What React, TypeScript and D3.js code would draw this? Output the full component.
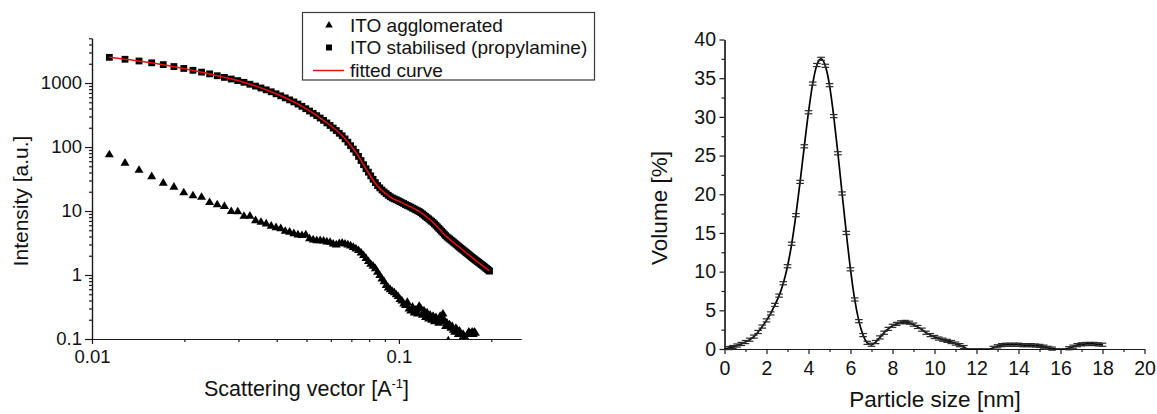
import React, { useEffect, useRef } from 'react';
import * as d3 from 'd3';

const FONT = '"Liberation Sans", Arial, Helvetica, sans-serif';

// ---- left chart: scattering curves (q in 1/A, intensity in a.u.)
const scatteringVector = [
  0.01139, 0.01281, 0.01423, 0.01565, 0.01707, 0.01849, 0.01991, 0.02133, 0.02275, 0.02417,
  0.02559, 0.02701, 0.02843, 0.02985, 0.03127, 0.03269, 0.03411, 0.03553, 0.03695, 0.03837,
  0.03979, 0.04121, 0.04263, 0.04405, 0.04547, 0.04689, 0.04831, 0.04973, 0.05115, 0.05257,
  0.05399, 0.05541, 0.05683, 0.05825, 0.05967, 0.06109, 0.06251, 0.06393, 0.06535, 0.06677,
  0.06819, 0.06961, 0.07103, 0.07245, 0.07387, 0.07529, 0.07671, 0.07813, 0.07955, 0.08097,
  0.08239, 0.08381, 0.08523, 0.08665, 0.08807, 0.08949, 0.09091, 0.09233, 0.09375, 0.09517,
  0.09659, 0.09801, 0.09943, 0.10085, 0.10227, 0.10369, 0.10511, 0.10653, 0.10795, 0.10937,
  0.11079, 0.11221, 0.11363, 0.11505, 0.11647, 0.11789, 0.11931, 0.12073, 0.12215, 0.12357,
  0.12499, 0.12641, 0.12783, 0.12925, 0.13067, 0.13209, 0.13351, 0.13493, 0.13635, 0.13777,
  0.13919, 0.14061, 0.14203, 0.14345, 0.14487, 0.14629, 0.14771, 0.14913, 0.15055, 0.15197,
  0.15339, 0.15481, 0.15623, 0.15765, 0.15907, 0.16049, 0.16191, 0.16333, 0.16475, 0.16617,
  0.16759, 0.16901, 0.17043, 0.17185, 0.17327, 0.17469, 0.17611, 0.17753, 0.17895, 0.18037,
  0.18179, 0.18321, 0.18463, 0.18605, 0.18747, 0.18889, 0.19031, 0.19173, 0.19315, 0.19457,
  0.19599, 0.19741,
];

const stabilisedIntensity = [
  2520, 2350, 2210, 2070, 1940, 1810, 1690, 1580, 1480, 1390,
  1300, 1225, 1155, 1091, 1026, 957, 895, 837, 783, 730,
  679, 631, 586, 545, 507, 469, 432, 397, 365, 336,
  309, 284, 261, 238, 217, 198, 181, 164, 150, 134,
  119, 105, 92.9, 82.2, 71.4, 61.5, 53.0, 45.8, 40.5, 35.5,
  31.3, 27.8, 25.0, 23.0, 21.3, 19.9, 18.7, 17.6, 16.7, 16.0,
  15.5, 15.0, 14.5, 14.0, 13.5, 13.1, 12.6, 12.2, 11.9, 11.5,
  11.1, 10.8, 10.4, 10.1, 9.8, 9.42, 9.02, 8.62, 8.25, 7.89,
  7.55, 7.22, 6.91, 6.62, 6.28, 5.96, 5.65, 5.36, 5.09, 4.83,
  4.58, 4.35, 4.12, 3.93, 3.79, 3.66, 3.52, 3.4, 3.27, 3.15,
  3.04, 2.93, 2.82, 2.72, 2.62, 2.54, 2.45, 2.37, 2.29, 2.22,
  2.15, 2.08, 2.01, 1.94, 1.88, 1.82, 1.77, 1.72, 1.67, 1.62,
  1.58, 1.53, 1.49, 1.45, 1.41, 1.37, 1.33, 1.29, 1.26, 1.22,
  1.19, 1.15,
];

// same q grid, measured up to q ~ 0.178
const agglomeratedIntensity = [
  77, 57, 44, 35, 27.7, 24.0, 19.6, 17.6, 16.7, 13.8,
  12.7, 12.0, 10.0, 9.9, 8.4, 8.45, 7.2, 6.8, 6.4, 5.9,
  5.6, 5.4, 4.9, 4.75, 4.5, 4.3, 4.2, 4.3, 3.75, 3.6,
  3.5, 3.5, 3.45, 3.35, 3.3, 3.1, 3.0, 3.15, 3.2, 3.1,
  3.0, 2.9, 2.75, 2.6, 2.45, 2.25, 2.05, 1.85, 1.65, 1.5,
  1.4, 1.28, 1.12, 1.0, 0.88, 0.8, 0.7, 0.64, 0.6, 0.56,
  0.54, 0.5, 0.47, 0.42, 0.4, 0.36, 0.34, 0.38, 0.3, 0.28,
  0.32, 0.26, 0.29, 0.25, 0.33, 0.3, 0.24, 0.28, 0.22, 0.26,
  0.21, 0.24, 0.2, 0.23, 0.19, 0.22, 0.2, 0.18, 0.23, 0.19,
  0.25, 0.2, 0.16, 0.18, 0.095, 0.17, 0.15, 0.16, 0.14, 0.13,
  0.15, 0.14, 0.12, 0.135, 0.095, 0.1, 0.12, 0.11, 0.1, 0.098,
  0.12, 0.13, 0.125, 0.12, 0.13, 0.12, 0.13, 0.125,
];

const fitVector = [
  0.01139, 0.01649, 0.02282, 0.03081, 0.03763, 0.04643, 0.05667, 0.06586, 0.07282, 0.07851,
  0.08463, 0.09348, 0.1033, 0.1171, 0.1293, 0.143, 0.158, 0.1746, 0.1968,
];
const fitIntensity = [
  2523, 1982, 1469, 1047, 759, 482, 264, 145, 79.8, 43.8,
  25.5, 16.7, 13.2, 9.66, 6.61, 3.98, 2.69, 1.82, 1.17,
];

const qTickValues = [0.01, 0.1];
const qTickLabels = ['0.01', '0.1'];
const intensityTickValues = [0.1, 1, 10, 100, 1000];
const intensityTickLabels = ['0.1', '1', '10', '100', '1000'];

const legendLabels = ['ITO agglomerated', 'ITO stabilised (propylamine)', 'fitted curve'];

// ---- right chart: volume size distribution
const particleSize = [
  0, 0.2, 0.4, 0.6, 0.8, 1.0, 1.2, 1.4, 1.6, 1.8,
  2.0, 2.2, 2.4, 2.6, 2.8, 3.0, 3.2, 3.4, 3.6, 3.8,
  4.0, 4.2, 4.4, 4.6, 4.8, 5.0, 5.2, 5.4, 5.6, 5.8,
  6.0, 6.2, 6.4, 6.6, 6.8, 7.0, 7.2, 7.4, 7.6, 7.8,
  8.0, 8.2, 8.4, 8.6, 8.8, 9.0, 9.2, 9.4, 9.6, 9.8,
  10.0, 10.2, 10.4, 10.6, 10.8, 11.0, 11.2, 11.4, 11.6, 11.8,
  12.0, 12.2, 12.4, 12.6, 12.8, 13.0, 13.2, 13.4, 13.6, 13.8,
  14.0, 14.2, 14.4, 14.6, 14.8, 15.0, 15.2, 15.4, 15.6, 15.8,
  16.0, 16.2, 16.4, 16.6, 16.8, 17.0, 17.2, 17.4, 17.6, 17.8,
  18.0,
];
const volumePercent = [
  0, 0.12, 0.25, 0.45, 0.65, 0.9, 1.2, 1.6, 2.2, 2.9,
  3.7, 4.6, 5.7, 6.9, 8.5, 10.7, 13.6, 17.3, 21.6, 26.2,
  30.6, 34.3, 36.7, 37.5, 36.6, 34.1, 30.1, 25.3, 20.1, 15.0,
  10.3, 6.4, 3.6, 1.8, 0.8, 0.55, 0.9, 1.5, 2.1, 2.6,
  3.0, 3.25, 3.45, 3.5, 3.4, 3.15, 2.85, 2.5, 2.1, 1.8,
  1.55, 1.35, 1.2, 1.05, 0.9, 0.7, 0.5, 0.25, 0, 0,
  0, 0, 0, 0, 0.15, 0.35, 0.5, 0.55, 0.55, 0.55,
  0.55, 0.5, 0.5, 0.5, 0.45, 0.4, 0.3, 0.15, 0.05, 0,
  0, 0, 0.1, 0.3, 0.5, 0.6, 0.65, 0.65, 0.65, 0.6,
  0.55,
];
const VOLUME_ERR = 0.2;

const sizeTickValues = [0, 2, 4, 6, 8, 10, 12, 14, 16, 18, 20];
const volumeTickValues = [0, 5, 10, 15, 20, 25, 30, 35, 40];

const AXIS = '#1a1a1a';

function styleAxis(g: any, fontSize: number) {
  g.select('.domain').attr('stroke', AXIS).attr('stroke-width', 1.2);
  g.selectAll('.tick line').attr('stroke', AXIS).attr('stroke-width', 1.2);
  g.selectAll('.tick text')
    .attr('fill', '#111')
    .style('font-family', FONT)
    .style('font-size', `${fontSize}px`);
}

function drawScattering(svg: any) {
  const x = d3.scaleLog().domain([0.01, 0.25]).range([92, 521]);
  const y = d3.scaleLog().domain([0.1, 5000]).range([339, 38.3]);

  svg.append('defs').append('clipPath').attr('id', 'clip-saxs')
    .append('rect').attr('x', 92).attr('y', 0).attr('width', 440).attr('height', 339);

  const minorX = [0.02, 0.03, 0.04, 0.05, 0.06, 0.07, 0.08, 0.09, 0.2];
  const minorY = [0.1, 1, 10, 100, 1000]
    .flatMap(d => [2, 3, 4, 5, 6, 7, 8, 9].map(k => k * d))
    .filter(v => v <= 5000);

  // minor ticks first
  const gxm = svg.append('g').attr('transform', 'translate(0,339)')
    .call(d3.axisBottom(x).tickValues(minorX).tickFormat(() => '').tickSize(3).tickSizeOuter(0));
  styleAxis(gxm, 18);
  const gym = svg.append('g').attr('transform', 'translate(92,0)')
    .call(d3.axisLeft(y).tickValues(minorY).tickFormat(() => '').tickSize(3).tickSizeOuter(0));
  styleAxis(gym, 18);

  const gx = svg.append('g').attr('transform', 'translate(0,339)')
    .call(d3.axisBottom(x).tickValues(qTickValues)
      .tickFormat((d: any, i: number) => qTickLabels[i]).tickSize(5).tickPadding(6).tickSizeOuter(0));
  styleAxis(gx, 18.5);

  const gy = svg.append('g').attr('transform', 'translate(92,0)')
    .call(d3.axisLeft(y).tickValues(intensityTickValues)
      .tickFormat((d: any, i: number) => intensityTickLabels[i]).tickSize(7).tickPadding(3).tickSizeOuter(0));
  styleAxis(gy, 18.5);

  const plot = svg.append('g').attr('clip-path', 'url(#clip-saxs)');
  const tri = 'M0,-4.6L4.5,3L-4.5,3Z';

  plot.selectAll('path.agg')
    .data(agglomeratedIntensity)
    .enter()
    .append('path')
    .attr('class', 'agg')
    .attr('d', tri)
    .attr('transform', (d: number, i: number) => `translate(${x(scatteringVector[i])},${y(d)})`)
    .attr('fill', '#000');

  plot.selectAll('rect.stab')
    .data(stabilisedIntensity)
    .enter()
    .append('rect')
    .attr('class', 'stab')
    .attr('x', (d: number, i: number) => x(scatteringVector[i]) - 3.4)
    .attr('y', (d: number) => y(d) - 3.4)
    .attr('width', 6.8)
    .attr('height', 6.8)
    .attr('fill', '#000');

  const fitLine = d3.line<number>()
    .x((d, i) => x(fitVector[i]))
    .y(d => y(d))
    .curve(d3.curveMonotoneX);
  plot.append('path')
    .attr('d', fitLine(fitIntensity))
    .attr('fill', 'none')
    .attr('stroke', '#e8100c')
    .attr('stroke-width', 1.5);

  // axis titles
  svg.append('text')
    .attr('x', 306.5).attr('y', 396)
    .attr('text-anchor', 'middle')
    .style('font-family', FONT).style('font-size', '21.5px').attr('fill', '#111')
    .call((t: any) => {
      t.append('tspan').text('Scattering vector [A');
      t.append('tspan').attr('dy', -8).style('font-size', '13px').text('-1');
      t.append('tspan').attr('dy', 8).text(']');
    });

  svg.append('text')
    .attr('transform', 'translate(28,201) rotate(-90)')
    .attr('text-anchor', 'middle')
    .style('font-family', FONT).style('font-size', '21px').attr('fill', '#111')
    .text('Intensity [a.u.]');

  // legend
  const lg = svg.append('g');
  lg.append('rect')
    .attr('x', 302.5).attr('y', 12.5).attr('width', 292).attr('height', 67.5)
    .attr('fill', '#fff').attr('stroke', '#3a3a3a').attr('stroke-width', 1.2);
  const rowY = [25, 47.5, 70];
  lg.append('path').attr('d', 'M0,-4L3.8,2.6L-3.8,2.6Z')
    .attr('transform', `translate(329,${rowY[0]})`).attr('fill', '#000');
  lg.append('rect').attr('x', 326).attr('y', rowY[1] - 3).attr('width', 6).attr('height', 6).attr('fill', '#000');
  lg.append('line').attr('x1', 313).attr('x2', 344).attr('y1', rowY[2] + 0.5).attr('y2', rowY[2] + 0.5)
    .attr('stroke', '#e8100c').attr('stroke-width', 1.5);
  lg.selectAll('text.lg')
    .data(legendLabels)
    .enter()
    .append('text')
    .attr('class', 'lg')
    .attr('x', 350)
    .attr('y', (d: string, i: number) => rowY[i] + 6.8)
    .style('font-family', FONT).style('font-size', '19px').attr('fill', '#111')
    .text((d: string) => d);
}

function drawSizeDistribution(svg: any) {
  const x = d3.scaleLinear().domain([0, 20]).range([724.5, 1144.5]);
  const y = d3.scaleLinear().domain([0, 40]).range([349, 39.5]);

  const minorX = d3.range(1, 20, 2);
  const minorY = d3.range(2.5, 40, 5);

  const gxm = svg.append('g').attr('transform', 'translate(0,349)')
    .call(d3.axisBottom(x).tickValues(minorX).tickFormat(() => '').tickSize(3).tickSizeOuter(0));
  styleAxis(gxm, 19.5);
  const gym = svg.append('g').attr('transform', 'translate(724.5,0)')
    .call(d3.axisLeft(y).tickValues(minorY).tickFormat(() => '').tickSize(3).tickSizeOuter(0));
  styleAxis(gym, 19.5);

  const gx = svg.append('g').attr('transform', 'translate(0,349)')
    .call(d3.axisBottom(x).tickValues(sizeTickValues).tickFormat(d3.format('d')).tickSize(5).tickPadding(7).tickSizeOuter(0));
  styleAxis(gx, 19.5);
  const gy = svg.append('g').attr('transform', 'translate(724.5,0)')
    .call(d3.axisLeft(y).tickValues(volumeTickValues).tickFormat(d3.format('d')).tickSize(5).tickPadding(3.5).tickSizeOuter(0));
  styleAxis(gy, 19.5);

  const line = d3.line<number>()
    .x((d, i) => x(particleSize[i]))
    .y(d => y(d))
    .curve(d3.curveMonotoneX);
  svg.append('path')
    .attr('d', line(volumePercent))
    .attr('fill', 'none')
    .attr('stroke', '#000')
    .attr('stroke-width', 1.7);

  const bars = svg.append('g').attr('stroke', '#2a2a2a').attr('stroke-width', 1.2);
  volumePercent.forEach((v, i) => {
    if (v <= 0) return;
    const cx = x(particleSize[i]);
    const top = y(v + VOLUME_ERR);
    const bot = y(v - VOLUME_ERR);
    bars.append('line').attr('x1', cx).attr('x2', cx).attr('y1', top).attr('y2', bot);
    bars.append('line').attr('x1', cx - 3.8).attr('x2', cx + 3.8).attr('y1', top).attr('y2', top);
    bars.append('line').attr('x1', cx - 3.8).attr('x2', cx + 3.8).attr('y1', bot).attr('y2', bot);
  });

  svg.append('text')
    .attr('x', 935).attr('y', 407)
    .attr('text-anchor', 'middle')
    .style('font-family', FONT).style('font-size', '22.5px').attr('fill', '#111')
    .text('Particle size [nm]');

  svg.append('text')
    .attr('transform', 'translate(667,208) rotate(-90)')
    .attr('text-anchor', 'middle')
    .style('font-family', FONT).style('font-size', '22.5px').attr('fill', '#111')
    .text('Volume [%]');
}

export default function App() {
  const ref = useRef<SVGSVGElement>(null);

  useEffect(() => {
    const svg = d3.select(ref.current);
    svg.selectAll('*').remove();
    drawScattering(svg);
    drawSizeDistribution(svg);
  }, []);

  return (
    <svg
      ref={ref}
      width={1157}
      height={414}
      style={{ position: 'absolute', left: 0, top: 0, background: '#fff' }}
    />
  );
}
